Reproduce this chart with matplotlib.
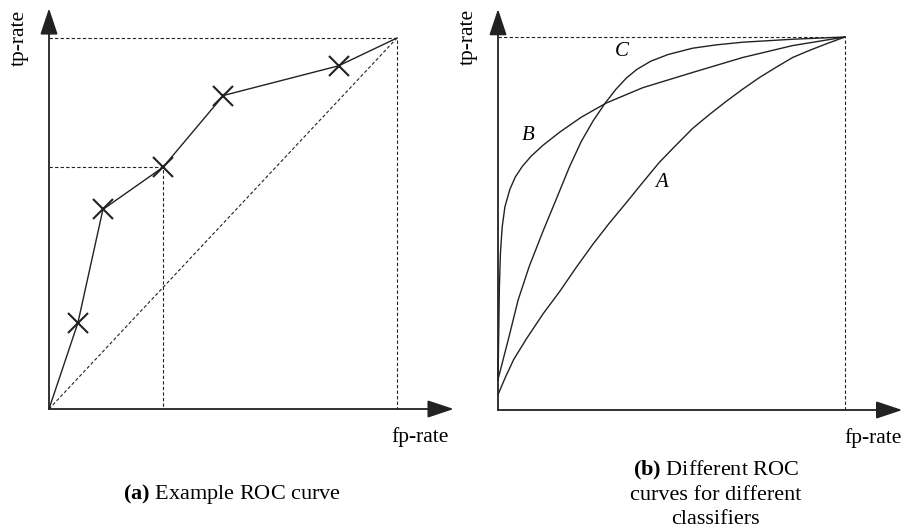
import numpy as np
import matplotlib.pyplot as plt

plt.rcParams['font.family'] = ['Liberation Serif', 'DejaVu Serif']
plt.rcParams['mathtext.fontset'] = 'custom'
plt.rcParams['mathtext.rm'] = 'Liberation Serif'
plt.rcParams['mathtext.bf'] = 'Liberation Serif:bold'
plt.rcParams['mathtext.it'] = 'Liberation Serif:italic'

# (a) example ROC curve points
roc_fp = [0.0, 0.083, 0.155, 0.328, 0.501, 0.832, 1.0]
roc_tp = [0.0, 0.232, 0.538, 0.652, 0.845, 0.925, 1.0]
mark_idx = [1, 2, 3, 4, 5]
thr_fp, thr_tp = 0.328, 0.652

# (b) three classifiers
a_fp = [0.0, 0.02, 0.045, 0.082, 0.13, 0.178, 0.226, 0.274, 0.32, 0.369, 0.417, 0.465,
        0.513, 0.561, 0.609, 0.657, 0.705, 0.753, 0.80, 0.849, 0.90, 0.95, 1.0]
a_tp = [0.041, 0.085, 0.135, 0.191, 0.258, 0.318, 0.383, 0.445, 0.50, 0.555, 0.61, 0.664,
        0.71, 0.755, 0.792, 0.827, 0.86, 0.891, 0.918, 0.945, 0.965, 0.983, 1.0]
b_fp = [0.0, 0.002, 0.004, 0.007, 0.012, 0.02, 0.034, 0.05, 0.07, 0.095, 0.13, 0.178,
        0.24, 0.312, 0.417, 0.561, 0.705, 0.849, 1.0]
b_tp = [0.08, 0.2, 0.33, 0.42, 0.49, 0.545, 0.591, 0.625, 0.653, 0.68, 0.71, 0.745,
        0.785, 0.823, 0.864, 0.905, 0.945, 0.977, 1.0]
c_fp = [0.0, 0.03, 0.058, 0.09, 0.13, 0.17, 0.206, 0.24, 0.274, 0.309, 0.34, 0.37, 0.40,
        0.44, 0.49, 0.561, 0.63, 0.705, 0.849, 1.0]
c_tp = [0.082, 0.19, 0.295, 0.385, 0.48, 0.57, 0.652, 0.72, 0.775, 0.823, 0.86, 0.89, 0.913,
        0.935, 0.953, 0.97, 0.979, 0.986, 0.994, 1.0]
labels = {'A': (0.47, 0.609), 'B': (0.086, 0.736), 'C': (0.357, 0.96)}

W, H = 912, 532
fig = plt.figure(figsize=(W / 100, H / 100), dpi=100)

ink = '#222222'
XL = (-0.12, 1.22)
YL = (-0.12, 1.09)


def make_axes(ox, oy, ux, uy):
    # origin pixel (ox, oy) from top-left, ux/uy pixels per unit
    left = ox + XL[0] * ux
    right = ox + XL[1] * ux
    bottom = oy - YL[0] * uy
    top = oy - YL[1] * uy
    ax = fig.add_axes([left / W, (H - bottom) / H, (right - left) / W, (bottom - top) / H])
    ax.set_xlim(XL)
    ax.set_ylim(YL)
    ax.axis('off')
    return ax


def draw_axes(ax, xmax, ymax):
    ap = dict(arrowstyle='-|>,head_length=0.9,head_width=0.3', color=ink, lw=1.3,
              mutation_scale=18, shrinkA=0, shrinkB=0)
    ax.annotate('', xy=(xmax, 0), xytext=(0, 0), arrowprops=ap)
    ax.annotate('', xy=(0, ymax), xytext=(0, 0), arrowprops=ap)
    ax.plot([0, 1, 1], [1, 1, 0], color=ink, lw=0.8, ls=(0, (3, 2)))


dash = dict(color=ink, lw=0.8, ls=(0, (3, 2)))

# left panel
ax1 = make_axes(49, 409, 348, 371)
draw_axes(ax1, 1.163, 1.08)
ax1.plot([0, 1], [0, 1], **dash)
ax1.plot([0, thr_fp, thr_fp], [thr_tp, thr_tp, 0], **dash)
ax1.plot(roc_fp, roc_tp, color=ink, lw=1.0)
ax1.plot([roc_fp[i] for i in mark_idx], [roc_tp[i] for i in mark_idx], ls='none',
         marker='x', ms=14, mew=1.5, color=ink)
ax1.text(-0.085, 1.0, 'tp-rate', rotation=90, ha='center', va='center', fontsize=15.5)
ax1.text(1.065, -0.075, 'fp-rate', ha='center', va='center', fontsize=15.5)
ax1.text(0.526, -0.23, r'$\mathbf{(a)}$ Example ROC curve', ha='center', va='center',
         fontsize=16, clip_on=False)

# right panel
ax2 = make_axes(498, 410, 347, 373)
draw_axes(ax2, 1.165, 1.075)
ax2.plot(a_fp, a_tp, color=ink, lw=1.0)
ax2.plot(b_fp, b_tp, color=ink, lw=1.0)
ax2.plot(c_fp, c_tp, color=ink, lw=1.0)
for name, (x, y) in labels.items():
    ax2.text(x, y, name, fontsize=15, style='italic', ha='center', va='center')
ax2.text(-0.085, 1.0, 'tp-rate', rotation=90, ha='center', va='center', fontsize=15.5)
ax2.text(1.08, -0.075, 'fp-rate', ha='center', va='center', fontsize=15.5)
ax2.text(0.628, -0.13, r'$\mathbf{(b)}$ Different ROC' + '\ncurves for different\nclassifiers',
         ha='center', va='top', fontsize=16, linespacing=1.35, clip_on=False)

fig.savefig('out.png', dpi=100)
